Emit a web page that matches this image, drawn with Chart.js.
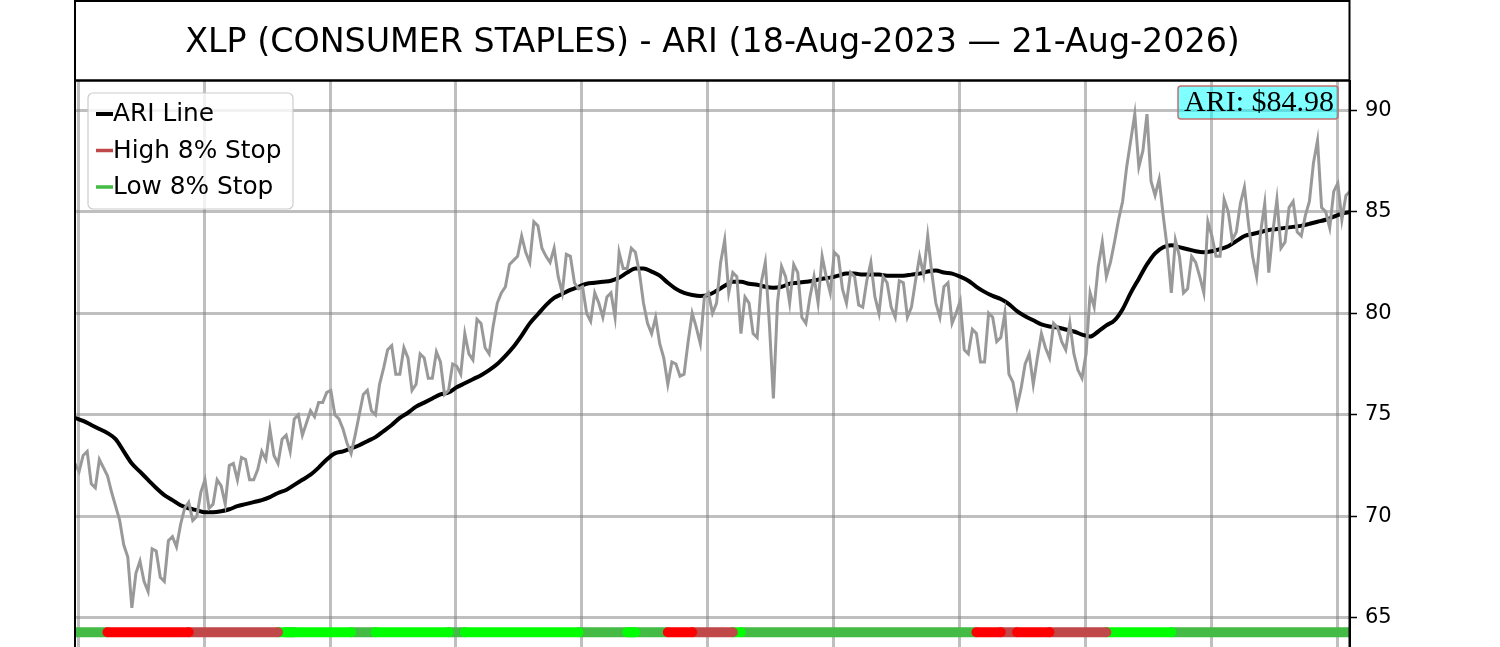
<!DOCTYPE html>
<html>
<head>
<meta charset="utf-8">
<script src="https://cdn.jsdelivr.net/npm/chart.js@4.4.1/dist/chart.umd.min.js"></script>
<style>
  html, body { margin: 0; padding: 0; background: #fff; overflow: hidden; }
  #wrap { width: 1500px; height: 647px; }
</style>
</head>
<body>
<div id="wrap"><canvas id="ariChart"></canvas></div>
<script>
const titleText = 'XLP (CONSUMER STAPLES) - ARI (18-Aug-2023 — 21-Aug-2026)';

// price at the start of each week
const price = [
  72.6, 73.0, 71.6, 72.8, 72.0, 70.5, 68.6, 65.5, 67.8, 66.3,
  68.3, 66.8, 69.0, 69.6, 70.7, 70.0, 71.8, 70.6, 71.5, 72.5,
  71.8, 72.8, 71.8, 73.2, 74.3, 72.6, 74.0, 74.8, 74.0, 75.2,
  75.6, 76.1, 75.0, 74.3, 73.1, 75.0, 76.2, 75.0, 77.3, 78.4,
  77.0, 77.8, 76.5, 77.8, 76.8, 77.6, 76.2, 77.4, 79.0, 77.7,
  79.5, 78.0, 80.5, 81.3, 82.6, 83.8, 82.5, 84.3, 82.8, 83.2,
  81.0, 82.8, 81.2, 80.0, 81.0, 79.8, 81.0, 83.0, 82.2, 83.0,
  80.5, 79.0, 78.5, 76.5, 77.5, 77.0, 80.0, 78.5, 81.0, 80.5,
  83.6, 82.0, 79.0, 80.5, 78.8, 82.5, 75.8, 82.3, 80.5, 82.0,
  79.5, 81.8, 82.8, 81.0, 82.8, 80.5, 81.8, 80.3, 82.5, 80.0,
  81.5, 79.8, 81.5, 80.3, 82.8, 83.8, 80.5, 81.3, 79.5, 80.6,
  78.0, 79.0, 77.6, 79.8, 78.8, 77.0, 75.4, 77.5, 76.5, 79.0,
  77.8, 79.3, 78.2, 78.0, 76.8, 81.0, 82.3, 81.8, 83.5, 85.5,
  88.5, 87.2, 89.8, 85.8, 84.8, 81.0, 82.8, 81.2, 82.5, 81.0,
  83.8, 82.8, 85.0, 84.0, 86.2, 82.8, 84.0, 82.0, 85.6, 83.5,
  85.5, 83.8, 85.5, 88.5, 85.0, 86.0, 84.6, 86.0
];

// price in the middle of each week
const priceMid = [
  72.2, 73.2, 71.4, 72.4, 71.2, 69.8, 68.0, 67.2, 66.8, 68.4,
  67.0, 68.8, 68.5, 70.4, 69.8, 71.2, 70.4, 71.8, 70.6, 72.6,
  72.9, 71.8, 72.3, 72.8, 73.0, 73.8, 73.2, 75.0, 74.6, 74.9,
  75.6, 76.2, 74.8, 73.6, 74.0, 76.0, 75.2, 76.5, 78.2, 77.0,
  78.3, 76.2, 78.0, 76.8, 78.1, 76.0, 77.5, 77.0, 78.0, 79.7,
  78.3, 79.4, 81.0, 82.4, 82.8, 83.0, 84.5, 83.2, 82.5, 81.8,
  82.9, 81.5, 81.3, 79.6, 80.5, 80.8, 79.8, 82.2, 83.2, 82.0,
  79.5, 79.8, 77.8, 77.6, 76.9, 78.6, 79.3, 80.8, 80.0, 82.5,
  81.0, 81.8, 80.8, 79.0, 81.5, 79.5, 80.5, 81.8, 82.4, 79.8,
  80.8, 80.5, 81.8, 83.0, 81.2, 82.0, 80.4, 81.6, 80.8, 81.8,
  80.3, 81.6, 79.8, 81.6, 81.9, 82.0, 79.8, 81.5, 80.0, 78.2,
  79.2, 77.6, 80.0, 78.6, 80.0, 76.6, 76.3, 78.0, 77.8, 78.3,
  79.5, 78.6, 79.5, 77.2, 78.0, 80.3, 83.5, 82.5, 84.6, 87.2,
  89.8, 88.0, 86.5, 86.6, 83.2, 83.6, 81.0, 82.8, 81.8, 84.5,
  82.8, 85.6, 83.6, 85.4, 84.4, 81.8, 85.4, 84.0, 83.2, 85.2,
  84.0, 84.8, 87.4, 85.2, 84.2, 86.4, 85.8
];

// ARI line, one value per week
const ari = [
  74.85, 74.70, 74.50, 74.30, 74.10, 73.80, 73.20, 72.60, 72.20, 71.80,
  71.40, 71.05, 70.80, 70.55, 70.40, 70.30, 70.20, 70.20, 70.25, 70.35,
  70.50, 70.60, 70.70, 70.80, 70.95, 71.15, 71.30, 71.55, 71.80, 72.05,
  72.40, 72.80, 73.10, 73.20, 73.35, 73.50, 73.70, 73.90, 74.20, 74.50,
  74.85, 75.10, 75.40, 75.60, 75.80, 76.00, 76.10, 76.35, 76.55, 76.75,
  76.95, 77.20, 77.50, 77.90, 78.35, 78.90, 79.50, 79.95, 80.40, 80.75,
  80.95, 81.15, 81.30, 81.45, 81.50, 81.55, 81.60, 81.75, 82.00, 82.20,
  82.20, 82.05, 81.85, 81.50, 81.20, 81.00, 80.90, 80.85, 80.90, 81.10,
  81.35, 81.55, 81.55, 81.45, 81.40, 81.30, 81.25, 81.30, 81.45, 81.50,
  81.55, 81.60, 81.70, 81.75, 81.85, 81.95, 81.95, 81.90, 81.90, 81.90,
  81.85, 81.85, 81.85, 81.90, 81.95, 82.05, 82.10, 82.00, 81.95, 81.80,
  81.60, 81.30, 81.05, 80.85, 80.70, 80.45, 80.10, 79.85, 79.65, 79.45,
  79.35, 79.30, 79.20, 79.10, 78.95, 78.85, 79.10, 79.40, 79.65, 80.20,
  81.00, 81.70, 82.40, 82.95, 83.25, 83.35, 83.25, 83.15, 83.05, 83.00,
  83.05, 83.15, 83.30, 83.55, 83.80, 83.90, 84.00, 84.10, 84.15, 84.20,
  84.25, 84.30, 84.40, 84.50, 84.60, 84.75, 84.90, 84.98
];

// stop state strip: [state, number of weeks]
// G = low stop, L = low stop rising, R = high stop hit, B = high stop
const stopRuns = [
  ['G', 4], ['R', 10], ['B', 11], ['L', 1], ['G', 1], ['L', 7], ['G', 3],
  ['L', 9], ['G', 2], ['L', 14], ['G', 6], ['L', 1], ['G', 4], ['R', 3],
  ['B', 5], ['L', 1], ['G', 29], ['R', 3], ['B', 2], ['R', 4], ['B', 7],
  ['L', 8], ['G', 23]
];
const stopLevel = 64.3;

const yTicks = [65, 70, 75, 80, 85, 90];

const weeks = price.map((_, i) => i);
const stopState = [];
stopRuns.forEach(([s, n]) => { for (let k = 0; k < n; k++) stopState.push(s); });

const pricePoints = [];
weeks.forEach(i => {
  pricePoints.push({x: i, y: price[i]});
  if (i < priceMid.length) pricePoints.push({x: i + 0.5, y: priceMid[i]});
});

function stopSeries(code) {
  // each run also takes the first week of the next one so the pieces join
  return weeks.map(i => (stopState[i] === code || stopState[i - 1] === code) ? {x: i, y: stopLevel} : {x: i, y: null});
}

const stopStyle = {
  borderWidth: 10,
  borderCapStyle: 'round',
  pointRadius: 0,
  spanGaps: false,
  fill: false
};

const datasets = [
  {
    label: 'Price',
    data: pricePoints,
    borderColor: '#999999',
    borderWidth: 3,
    pointRadius: 0,
    tension: 0,
    order: 1
  },
  {
    label: 'ARI Line',
    data: weeks.map(i => ({x: i, y: ari[i]})),
    borderColor: '#000000',
    borderWidth: 4,
    pointRadius: 0,
    cubicInterpolationMode: 'monotone',
    order: 2,
    inLegend: true,
    legendOrder: 0
  },
  Object.assign({label: 'Low 8% Stop', data: stopSeries('G'), borderColor: '#44bb44', inLegend: true, order: 6, legendOrder: 2}, stopStyle),
  Object.assign({label: 'Low Stop Rising', data: stopSeries('L'), borderColor: '#00ff00', order: 5}, stopStyle),
  Object.assign({label: 'High 8% Stop', data: stopSeries('B'), borderColor: '#c04848', inLegend: true, order: 4, legendOrder: 1}, stopStyle),
  Object.assign({label: 'High Stop Hit', data: stopSeries('R'), borderColor: '#ff0000', order: 3}, stopStyle)
];

const framePlugin = {
  id: 'frame',
  afterDraw(chart) {
    const {ctx, chartArea: a} = chart;
    ctx.save();

    // title box
    ctx.strokeStyle = '#000';
    ctx.lineWidth = 2.5;
    ctx.beginPath();
    ctx.moveTo(a.left, 0.8); ctx.lineTo(a.right, 0.8);
    ctx.moveTo(a.left, a.top - 0.5); ctx.lineTo(a.right, a.top - 0.5);
    ctx.stroke();
    ctx.lineWidth = 2;
    ctx.beginPath();
    ctx.moveTo(a.left, 0); ctx.lineTo(a.left, chart.height);
    ctx.moveTo(a.right - 0.5, 0); ctx.lineTo(a.right - 0.5, chart.height);
    ctx.stroke();
    ctx.fillStyle = '#000';
    ctx.font = '33.3px "DejaVu Sans"';
    ctx.textAlign = 'center';
    ctx.textBaseline = 'alphabetic';
    ctx.fillText(titleText, (a.left + a.right) / 2, 52);

    // legend
    const items = chart.data.datasets.filter(d => d.inLegend).sort((p, q) => p.legendOrder - q.legendOrder);
    const lx = a.left + 13, ly = a.top + 12, lw = 205, lh = 116;
    ctx.fillStyle = 'rgba(255,255,255,0.8)';
    ctx.strokeStyle = '#cccccc';
    ctx.lineWidth = 1.2;
    ctx.beginPath();
    ctx.roundRect(lx, ly, lw, lh, 5);
    ctx.fill();
    ctx.stroke();
    ctx.font = '24.8px "DejaVu Sans"';
    ctx.textAlign = 'left';
    ctx.textBaseline = 'middle';
    items.forEach((d, k) => {
      const cy = ly + 21 + k * 36.5;
      ctx.strokeStyle = d.borderColor;
      ctx.lineWidth = k === 0 ? 4 : 3.5;
      ctx.beginPath();
      ctx.moveTo(lx + 8, cy); ctx.lineTo(lx + 25, cy);
      ctx.stroke();
      ctx.fillStyle = '#000';
      ctx.fillText(d.label, lx + 25, cy + 1);
    });

    // last ARI value badge
    const label = 'ARI: $' + ari[ari.length - 1].toFixed(2);
    ctx.font = '30px "Liberation Serif"';
    const tw = ctx.measureText(label).width;
    const bx = a.right - 12 - tw - 10, by = a.top + 5;
    ctx.fillStyle = 'rgba(0,255,255,0.5)';
    ctx.strokeStyle = '#c07070';
    ctx.lineWidth = 1.5;
    ctx.beginPath();
    ctx.roundRect(bx, by, tw + 10, 33, 3);
    ctx.fill();
    ctx.stroke();
    ctx.fillStyle = '#000';
    ctx.textAlign = 'right';
    ctx.textBaseline = 'alphabetic';
    ctx.fillText(label, a.right - 16, by + 25);

    ctx.restore();
  }
};

const config = {
  type: 'line',
  data: { datasets: datasets },
  options: {
    responsive: false,
    animation: false,
    devicePixelRatio: 1,
    layout: { autoPadding: false, padding: { left: 75, top: 81, right: 0, bottom: 0 } },
    plugins: {
      legend: { display: false },
      title: { display: false },
      tooltip: { enabled: false }
    },
    scales: {
      x: {
        type: 'linear',
        min: 0,
        max: weeks.length - 1,
        afterBuildTicks: axis => {
          axis.ticks = [];
          for (let k = 0; k <= 10; k++) axis.ticks.push({value: 0.37 + 15.515 * k});
        },
        afterFit: axis => { axis.height = 0; axis.paddingLeft = 0; axis.paddingRight = 0; },
        ticks: { display: false },
        border: { display: false },
        grid: { color: 'rgba(128,128,128,0.5)', lineWidth: 3, drawTicks: false }
      },
      y: {
        position: 'right',
        min: 63.57,
        max: 91.43,
        afterBuildTicks: axis => { axis.ticks = yTicks.map(v => ({value: v})); },
        afterFit: axis => { axis.width = 150; axis.paddingTop = 0; axis.paddingBottom = 0; },
        ticks: {
          includeBounds: false,
          color: '#000',
          padding: 8,
          font: { family: 'DejaVu Sans', size: 21 }
        },
        border: { display: true, color: '#000', width: 2 },
        grid: {
          color: 'rgba(128,128,128,0.5)',
          lineWidth: 3,
          tickColor: '#000',
          tickWidth: 1.5,
          tickLength: 7
        }
      }
    }
  },
  plugins: [framePlugin]
};

const canvas = document.getElementById('ariChart');
canvas.width = 1500;
canvas.height = 647;
const ariChart = new Chart(canvas, config);
</script>
</body>
</html>
